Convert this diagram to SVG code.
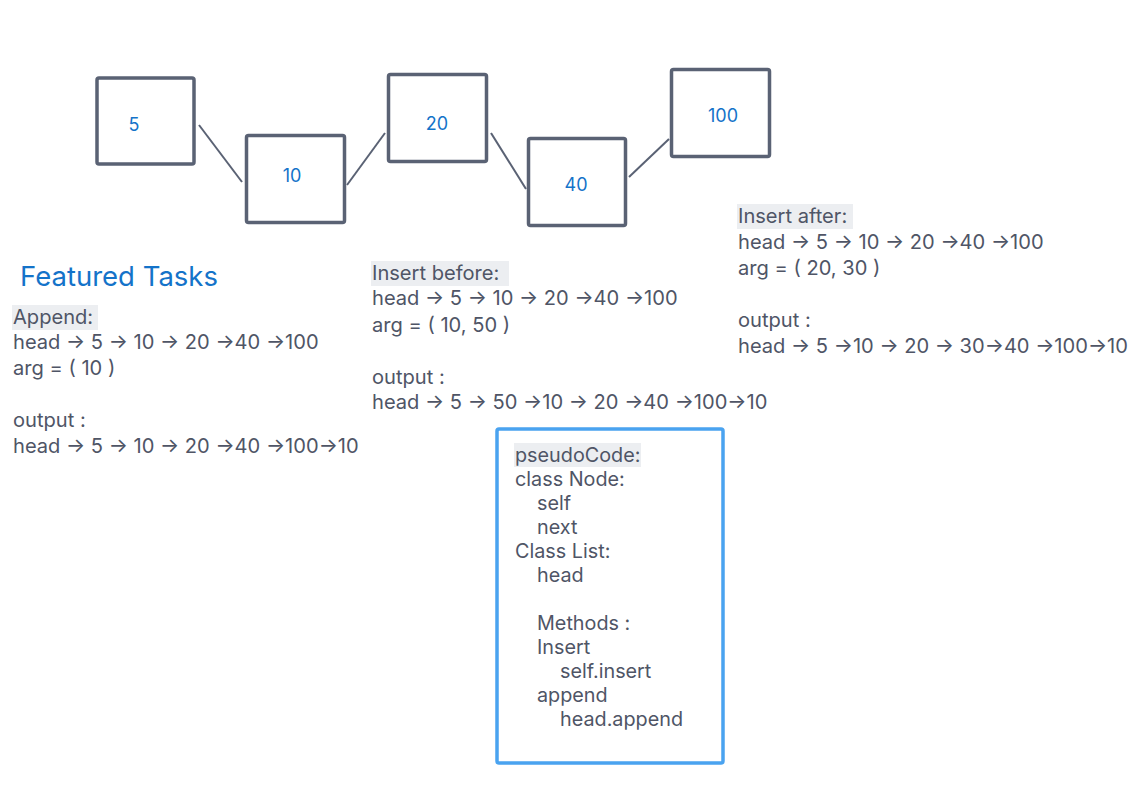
<svg xmlns="http://www.w3.org/2000/svg" width="1147" height="800" viewBox="0 0 1147 800">
<style>
.node rect{fill:#fff;stroke:#5a6274;stroke-width:3.5;}
.node text{font-family:Inter,"Liberation Sans",sans-serif;font-size:18px;fill:#1473c9;text-anchor:middle;dominant-baseline:central;}
.conn line{stroke:#5a6274;stroke-width:2;}
.t{font-family:Inter,"Liberation Sans",sans-serif;font-size:20.1px;fill:#4f5566;}
.p{font-size:19.8px;}
.hl{fill:#eceef1;}
.title{font-family:Inter,"Liberation Sans",sans-serif;font-size:27.5px;fill:#1473c9;}
</style>
<rect width="1147" height="800" fill="#fff"/>
<g class="conn">
<line x1="199" y1="125" x2="242" y2="182"/>
<line x1="347" y1="185" x2="385" y2="133"/>
<line x1="491" y1="133" x2="526" y2="189"/>
<line x1="629" y1="177" x2="669" y2="139"/>
</g>
<g id="n5" class="node"><rect x="97" y="78" width="97" height="86" rx="2"/><text x="134" y="124">5</text></g>
<g id="n10" class="node"><rect x="246.5" y="135.5" width="98" height="87" rx="2"/><text x="292" y="175">10</text></g>
<g id="n20" class="node"><rect x="388.5" y="74.5" width="98" height="87" rx="2"/><text x="437" y="123">20</text></g>
<g id="n40" class="node"><rect x="528.5" y="138.5" width="97" height="87" rx="2"/><text x="576" y="184">40</text></g>
<g id="n100" class="node"><rect x="671.5" y="69.5" width="98" height="87" rx="2"/><text x="723" y="115">100</text></g>

<text class="title" x="20" y="286">Featured Tasks</text>

<g id="append">
<rect class="hl" x="12" y="305" width="86" height="25"/>
<text class="t" x="13" y="324">Append:</text>
<text class="t" x="13" y="349">head → 5 → 10 → 20 →40 →100</text>
<text class="t" x="13" y="375">arg = ( 10 )</text>
<text class="t" x="13" y="427">output :</text>
<text class="t" x="13" y="453">head → 5 → 10 → 20 →40 →100→10</text>
</g>

<g id="insertBefore">
<rect class="hl" x="371" y="261" width="138" height="25"/>
<text class="t" x="372" y="280">Insert before:</text>
<text class="t" x="372" y="305">head → 5 → 10 → 20 →40 →100</text>
<text class="t" x="372" y="332">arg = ( 10, 50 )</text>
<text class="t" x="372" y="384">output :</text>
<text class="t" x="372" y="409">head → 5 → 50 →10 → 20 →40 →100→10</text>
</g>

<g id="insertAfter">
<rect class="hl" x="737" y="204" width="116" height="25"/>
<text class="t" x="738" y="223">Insert after:</text>
<text class="t" x="738" y="249">head → 5 → 10 → 20 →40 →100</text>
<text class="t" x="738" y="275">arg = ( 20, 30 )</text>
<text class="t" x="738" y="327">output :</text>
<text class="t" x="738" y="353">head → 5 →10 → 20 → 30→40 →100→10</text>
</g>

<g id="pseudo">
<rect x="497" y="429" width="226" height="334" rx="2" fill="#fff" stroke="#4aa3f0" stroke-width="3.5"/>
<rect class="hl" x="514" y="443" width="127" height="24"/>
<text class="t p" x="515" y="462">pseudoCode:</text>
<text class="t p" x="515" y="486">class Node:</text>
<text class="t p" x="537" y="510">self</text>
<text class="t p" x="537" y="534">next</text>
<text class="t p" x="515" y="558">Class List:</text>
<text class="t p" x="537" y="582">head</text>
<text class="t p" x="537" y="630">Methods :</text>
<text class="t p" x="537" y="654">Insert</text>
<text class="t p" x="560" y="678">self.insert</text>
<text class="t p" x="537" y="702">append</text>
<text class="t p" x="560" y="726">head.append</text>
</g>
</svg>
